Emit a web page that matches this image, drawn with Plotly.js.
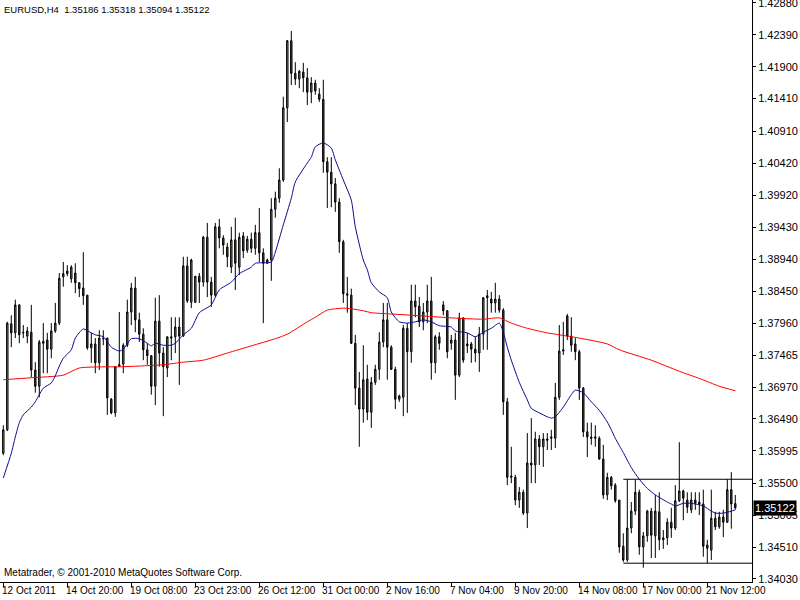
<!DOCTYPE html>
<html>
<head>
<meta charset="utf-8">
<script src="https://cdn.plot.ly/plotly-3.0.1.min.js"></script>
<style>html,body{margin:0;padding:0;background:#fff}#chart{width:800px;height:600px}</style>
</head>
<body>
<div id="chart"></div>
<script>
// ---- data (EURUSD H4) ----
const symbol = "EURUSD";
const timeframe = "H4";
const open = [
1.3596,1.3632,1.3795,1.3781,1.3824,1.3782,1.3776,1.3782,1.3724,1.3699,
1.3765,1.3770,1.3756,1.3784,1.3796,1.3867,1.3872,1.3864,1.3873,1.3858,
1.3850,1.3839,1.3758,1.3764,1.3735,1.3773,1.3773,1.3679,1.3658,1.3730,
1.3733,1.3762,1.3813,1.3850,1.3801,1.3779,1.3755,1.3746,1.3699,1.3799,
1.3750,1.3727,1.3775,1.3775,1.3790,1.3776,1.3884,1.3828,1.3828,1.3868,
1.3859,1.3928,1.3859,1.3839,1.3944,1.3927,1.3913,1.3882,1.3924,1.3882,
1.3930,1.3908,1.3925,1.3911,1.3935,1.3904,1.3888,1.3893,1.3971,1.3988,
1.4016,1.4127,1.4230,1.4180,1.4171,1.4182,1.4173,1.4151,1.4165,1.4148,
1.4140,1.4044,1.4028,1.4010,1.3982,1.3921,1.3841,1.3839,1.3765,1.3696,
1.3664,1.3710,1.3659,1.3705,1.3725,1.3767,1.3801,1.3759,1.3725,1.3679,
1.3682,1.3788,1.3752,1.3830,1.3822,1.3798,1.3813,1.3830,1.3735,1.3775,
1.3824,1.3815,1.3765,1.3770,1.3716,1.3804,1.3764,1.3764,1.3756,1.3750,
1.3779,1.3835,1.3833,1.3827,1.3833,1.3816,1.3675,1.3559,1.3559,1.3524,
1.3536,1.3504,1.3581,1.3578,1.3618,1.3606,1.3618,1.3619,1.3619,1.3682,
1.3753,1.3807,1.3776,1.3764,1.3752,1.3696,1.3629,1.3621,1.3619,1.3619,
1.3587,1.3532,1.3559,1.3547,1.3524,1.3453,1.3432,1.3481,1.3507,1.3536,
1.3452,1.3469,1.3507,1.3469,1.3506,1.3463,1.3466,1.3490,1.3481,1.3523,
1.3538,1.3524,1.3509,1.3524,1.3521,1.3518,1.3455,1.3447,1.3496,1.3483,
1.3498,1.3490,1.3540,1.35186];
const high = [
1.3639,1.3798,1.3808,1.3832,1.3825,1.3793,1.3790,1.3824,1.3736,1.3770,
1.3796,1.3781,1.3796,1.3827,1.3873,1.3890,1.3885,1.3885,1.3888,1.3859,
1.3905,1.3839,1.3781,1.3773,1.3785,1.3785,1.3773,1.3681,1.3729,1.3813,
1.3765,1.3832,1.3858,1.3867,1.3812,1.3788,1.3765,1.3746,1.3835,1.3839,
1.3759,1.3775,1.3805,1.3805,1.3805,1.3898,1.3898,1.3895,1.3868,1.3873,
1.3930,1.3950,1.3867,1.3950,1.3956,1.3931,1.3919,1.3944,1.3958,1.3935,
1.3936,1.3930,1.3935,1.3947,1.3973,1.3911,1.3895,1.3988,1.3998,1.4034,
1.4144,1.4231,1.4245,1.4197,1.4185,1.4196,1.4188,1.4174,1.4170,1.4157,
1.4170,1.4051,1.4051,1.4019,1.3988,1.3924,1.3867,1.3849,1.3778,1.3721,
1.3762,1.3732,1.3713,1.3732,1.3782,1.3827,1.3827,1.3762,1.3729,1.3686,
1.3793,1.3796,1.3855,1.3855,1.3836,1.3827,1.3855,1.3867,1.3778,1.3782,
1.3830,1.3816,1.3778,1.3781,1.3812,1.3805,1.3781,1.3767,1.3775,1.3790,
1.3836,1.3847,1.3844,1.3858,1.3839,1.3819,1.3681,1.3606,1.3563,1.3544,
1.3540,1.3627,1.3650,1.3629,1.3624,1.3627,1.3627,1.3632,1.3704,1.3793,
1.3798,1.3810,1.3805,1.3773,1.3755,1.3698,1.3643,1.3643,1.3639,1.3622,
1.3609,1.3566,1.3561,1.3550,1.3524,1.3473,1.3556,1.3521,1.3555,1.3540,
1.3475,1.3509,1.3512,1.3532,1.3536,1.3478,1.3496,1.3512,1.3547,1.3613,
1.3540,1.3536,1.3536,1.3536,1.3536,1.3540,1.3463,1.3540,1.3506,1.3506,
1.3509,1.3556,1.3567,1.35318];
const low = [
1.3593,1.3630,1.3759,1.3773,1.3765,1.3773,1.3765,1.3713,1.3689,1.3682,
1.3719,1.3719,1.3742,1.3781,1.3793,1.3852,1.3868,1.3858,1.3842,1.3836,
1.3824,1.3755,1.3735,1.3719,1.3724,1.3762,1.3655,1.3656,1.3652,1.3729,
1.3719,1.3759,1.3793,1.3782,1.3767,1.3739,1.3732,1.3686,1.3670,1.3729,
1.3653,1.3713,1.3739,1.3750,1.3701,1.3775,1.3827,1.3819,1.3827,1.3827,
1.3852,1.3836,1.3821,1.3836,1.3911,1.3901,1.3882,1.3873,1.3847,1.3870,
1.3896,1.3904,1.3904,1.3901,1.3890,1.3796,1.3887,1.3861,1.3958,1.3981,
1.4013,1.4105,1.4162,1.4162,1.4157,1.4151,1.4131,1.4134,1.4147,1.4136,
1.4027,1.3973,1.3974,1.3967,1.3904,1.3827,1.3812,1.3764,1.3670,1.3606,
1.3643,1.3647,1.3635,1.3701,1.3709,1.3759,1.3709,1.3724,1.3664,1.3675,
1.3653,1.3658,1.3735,1.3805,1.3790,1.3785,1.3796,1.3709,1.3719,1.3755,
1.3808,1.3742,1.3755,1.3678,1.3713,1.3735,1.3750,1.3735,1.3736,1.3721,
1.3755,1.3755,1.3812,1.3812,1.3812,1.3655,1.3547,1.3550,1.3516,1.3512,
1.3501,1.3481,1.3550,1.3550,1.3578,1.3575,1.3601,1.3601,1.3604,1.3678,
1.3747,1.3770,1.3752,1.3739,1.3678,1.3621,1.3590,1.3609,1.3606,1.3586,
1.3526,1.3524,1.3540,1.3520,1.3443,1.3429,1.3429,1.3473,1.3501,1.3440,
1.3420,1.3460,1.3435,1.3435,1.3447,1.3449,1.3455,1.3466,1.3478,1.3521,
1.3493,1.3504,1.3504,1.3509,1.3501,1.3437,1.3427,1.3432,1.3478,1.3480,
1.3467,1.3489,1.3480,1.35094];
const close = [
1.3632,1.3796,1.3781,1.3824,1.3778,1.3781,1.3784,1.3724,1.3699,1.3767,
1.3768,1.3756,1.3784,1.3796,1.3865,1.3872,1.3876,1.3882,1.3858,1.3849,
1.3838,1.3758,1.3764,1.3735,1.3773,1.3772,1.3681,1.3658,1.3729,1.3732,
1.3762,1.3813,1.3850,1.3801,1.3779,1.3755,1.3746,1.3699,1.3799,1.3750,
1.3729,1.3775,1.3773,1.3790,1.3776,1.3884,1.3830,1.3893,1.3868,1.3859,
1.3928,1.3859,1.3839,1.3944,1.3927,1.3916,1.3898,1.3924,1.3888,1.3928,
1.3907,1.3925,1.3911,1.3935,1.3904,1.3888,1.3893,1.3971,1.3988,1.4016,
1.4127,1.4230,1.4180,1.4171,1.4183,1.4173,1.4151,1.4165,1.4153,1.4140,
1.4044,1.4028,1.4010,1.3982,1.3921,1.3841,1.3839,1.3765,1.3696,1.3664,
1.3709,1.3659,1.3705,1.3725,1.3767,1.3801,1.3759,1.3725,1.3679,1.3684,
1.3788,1.3752,1.3830,1.3821,1.3798,1.3813,1.3830,1.3735,1.3775,1.3765,
1.3815,1.3752,1.3770,1.3716,1.3804,1.3739,1.3761,1.3756,1.3750,1.3779,
1.3835,1.3838,1.3827,1.3833,1.3816,1.3675,1.3559,1.3561,1.3524,1.3536,
1.3504,1.3581,1.3578,1.3618,1.3606,1.3618,1.3616,1.3621,1.3682,1.3753,
1.3755,1.3776,1.3762,1.3752,1.3696,1.3629,1.3621,1.3619,1.3621,1.3587,
1.3532,1.3559,1.3546,1.3523,1.3452,1.3432,1.3481,1.3507,1.3536,1.3452,
1.3469,1.3507,1.3470,1.3507,1.3463,1.3466,1.3490,1.3481,1.3523,1.3538,
1.3527,1.3513,1.3524,1.3519,1.3518,1.3453,1.3450,1.3496,1.3483,1.3498,
1.3490,1.3540,1.3518,1.35122];

// moving averages read at bar positions
const fastMaIdx = [0,2,3,4,5,7,8,9,10,12,13,14,15,17,18,20,22,23,25,27,29,30,32,34,36,37,38,40,42,43,45,47,49,52,54,57,59,62,63,67,68,70,72,73,76,77,78,80,82,83,85,87,88,90,91,92,94,96,97,99,101,103,105,107,109,112,113,116,118,120,122,124,125,126,127,129,131,132,134,136,137,138,140,142,143,145,147,149,151,152,153,155,157,159,161,163,166,167,168,170,172,175,177,178,180,182,183];
const fastMa = [1.3558,1.3596,1.3621,1.3643,1.3655,1.3667,1.3675,1.3686,1.3696,1.3704,1.3715,1.3730,1.3742,1.3755,1.3773,1.3787,1.3781,1.3778,1.3775,1.3759,1.3753,1.3756,1.3772,1.3772,1.3765,1.3761,1.3765,1.3762,1.3762,1.3765,1.3778,1.3788,1.3812,1.3824,1.3847,1.3859,1.3872,1.3882,1.3888,1.3890,1.3905,1.3947,1.3988,1.4013,1.4042,1.4051,1.4067,1.4073,1.4065,1.4047,1.4016,1.3985,1.3944,1.3893,1.3878,1.3858,1.3844,1.3835,1.3813,1.3798,1.3796,1.3798,1.3801,1.3798,1.3792,1.3790,1.3784,1.3781,1.3775,1.3782,1.3788,1.3796,1.3782,1.3759,1.3739,1.3705,1.3678,1.3665,1.3658,1.3652,1.3650,1.3652,1.3667,1.3686,1.3693,1.3689,1.3675,1.3662,1.3644,1.3632,1.3619,1.3597,1.3574,1.3556,1.3542,1.3532,1.3521,1.3518,1.3515,1.3519,1.3519,1.3515,1.3507,1.3504,1.3504,1.3507,1.3509];
const slowMaIdx = [0,7,15,19,30,34,40,45,50,56,62,68,71,76,78,81,85,87,90,92,97,105,112,120,124,127,131,136,139,144,151,154,162,169,174,179,183];
const slowMa = [1.3709,1.3712,1.3716,1.3727,1.3729,1.3730,1.3732,1.3736,1.3739,1.3750,1.3761,1.3772,1.3779,1.3798,1.3805,1.3816,1.3819,1.3818,1.3815,1.3812,1.3810,1.3807,1.3804,1.3802,1.3804,1.3796,1.3788,1.3781,1.3778,1.3773,1.3764,1.3755,1.3739,1.3722,1.3711,1.3699,1.3692];

// horizontal levels drawn on the chart
const levelPrices = [1.3556, 1.3427];
const levelStartIdx = 155;

// axis labels
const priceTicks = [1.42880,1.42390,1.41900,1.41410,1.40910,1.40420,1.39920,1.39430,1.38940,1.38450,1.37960,1.37465,1.36970,1.36490,1.35995,1.35500,1.35005,1.34510,1.34030];
const dateIdx = [0,16,32,48,64,80,96,112,128,144,160,176];
const dateLabels = ["12 Oct 2011","14 Oct 20:00","19 Oct 08:00","23 Oct 23:00","26 Oct 12:00","31 Oct 00:00","2 Nov 16:00","7 Nov 04:00","9 Nov 20:00","14 Nov 08:00","17 Nov 00:00","21 Nov 12:00"];
const copyright = "Metatrader, \u00a9 2001-2010 MetaQuotes Software Corp.";

// ---- chart ----
const barIdx = open.map((_, i) => i);
const last = open.length - 1;
const fmt = v => v.toFixed(5);
const F = "Liberation Sans, Arial, sans-serif";

const traces = [
  {type:'scatter', mode:'lines', x:slowMaIdx, y:slowMa, line:{color:'#ff0000', width:1, shape:'spline', smoothing:0.6}, hoverinfo:'skip', showlegend:false},
  {type:'scatter', mode:'lines', x:fastMaIdx, y:fastMa, line:{color:'#0b0b8c', width:1, shape:'spline', smoothing:0.6}, hoverinfo:'skip', showlegend:false},
  {type:'candlestick', x:barIdx, open:open, high:high, low:low, close:close,
   increasing:{line:{color:'#000000', width:1}, fillcolor:'#32cd32'},
   decreasing:{line:{color:'#000000', width:1}, fillcolor:'#ff0000'},
   whiskerwidth:0, hoverinfo:'skip', showlegend:false}
];

const xRange = [-0.825, 187.175];
const annotations = dateLabels.map((t, k) => ({
  xref:'x', yref:'paper', x:dateIdx[k], y:0, xanchor:'left', yanchor:'top', xshift:-3, yshift:-1,
  text:t, showarrow:false, font:{family:F, size:10, color:'#000'}
}));
annotations.push({
  xref:'paper', yref:'paper', x:0, y:1, xanchor:'left', yanchor:'top', xshift:2, yshift:-2,
  text: symbol + ',' + timeframe + '\u00a0\u00a0' + [open[last], high[last], low[last], close[last]].map(fmt).join(' '),
  showarrow:false, font:{family:F, size:9.5, color:'#000'}
});
annotations.push({
  xref:'paper', yref:'paper', x:0, y:0, xanchor:'left', yanchor:'bottom', xshift:2, yshift:2,
  text: copyright, showarrow:false, font:{family:F, size:10, color:'#000'}
});
annotations.push({
  xref:'paper', yref:'y', x:1, y:close[last], xanchor:'left', yanchor:'middle', xshift:1,
  text: fmt(close[last]), showarrow:false, bgcolor:'#000', borderpad:1,
  font:{family:F, size:11, color:'#fff'}
});

const shapes = levelPrices.map(p => ({
  type:'line', xref:'x', yref:'y', x0:levelStartIdx, x1:xRange[1], y0:p, y1:p,
  line:{color:'#000', width:1}
}));

const layout = {
  width:800, height:600,
  margin:{l:0, r:48, t:0, b:18, pad:0},
  paper_bgcolor:'#ffffff', plot_bgcolor:'#ffffff',
  showlegend:false, boxgap:0.5,
  xaxis:{range:xRange, type:'linear', rangeslider:{visible:false}, showgrid:false, zeroline:false,
    showline:true, linecolor:'#000', linewidth:1, mirror:true,
    tickvals:dateIdx, ticks:'outside', ticklen:4, tickcolor:'#000', showticklabels:false, fixedrange:true},
  yaxis:{side:'right', range:[1.33981, 1.42926], showgrid:false, zeroline:false,
    showline:true, linecolor:'#000', linewidth:1, mirror:true,
    tickvals:priceTicks, ticktext:priceTicks.map(fmt), ticks:'outside', ticklen:3, tickcolor:'#000',
    ticklabeloverflow:'allow',
    tickfont:{family:F, size:11, color:'#000'}, fixedrange:true},
  annotations:annotations,
  shapes:shapes
};

Plotly.newPlot('chart', traces, layout, {staticPlot:true, displayModeBar:false});
</script>
</body>
</html>
